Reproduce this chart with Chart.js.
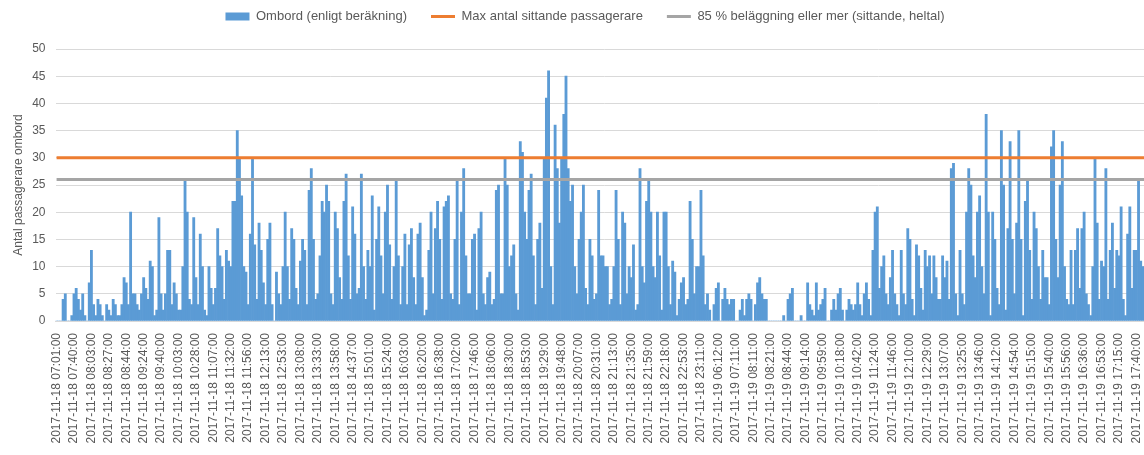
<!DOCTYPE html>
<html>
<head>
<meta charset="utf-8">
<script src="https://cdn.jsdelivr.net/npm/chart.js@4/dist/chart.umd.min.js"></script>
<style>
  html, body { margin: 0; padding: 0; background: #fff; overflow: hidden; }
  #wrap { width: 1170px; height: 455px; }
</style>
</head>
<body>
<div id="wrap"><canvas id="ombordChart" width="1170" height="455"></canvas></div>
<script>
// synliga etiketter på x-axeln (var 8:e stapel)
const tickLabels = [
  '2017-11-18 07:01:00', '2017-11-18 07:40:00', '2017-11-18 08:03:00', '2017-11-18 08:27:00',
  '2017-11-18 08:44:00', '2017-11-18 09:24:00', '2017-11-18 09:40:00', '2017-11-18 10:03:00',
  '2017-11-18 10:28:00', '2017-11-18 11:07:00', '2017-11-18 11:32:00', '2017-11-18 11:56:00',
  '2017-11-18 12:13:00', '2017-11-18 12:53:00', '2017-11-18 13:08:00', '2017-11-18 13:33:00',
  '2017-11-18 13:58:00', '2017-11-18 14:37:00', '2017-11-18 15:01:00', '2017-11-18 15:24:00',
  '2017-11-18 16:03:00', '2017-11-18 16:20:00', '2017-11-18 16:38:00', '2017-11-18 17:02:00',
  '2017-11-18 17:46:00', '2017-11-18 18:06:00', '2017-11-18 18:30:00', '2017-11-18 18:53:00',
  '2017-11-18 19:29:00', '2017-11-18 19:48:00', '2017-11-18 20:07:00', '2017-11-18 20:31:00',
  '2017-11-18 21:13:00', '2017-11-18 21:35:00', '2017-11-18 21:59:00', '2017-11-18 22:18:00',
  '2017-11-18 22:53:00', '2017-11-18 23:11:00', '2017-11-19 06:12:00', '2017-11-19 07:11:00',
  '2017-11-19 08:11:00', '2017-11-19 08:21:00', '2017-11-19 08:44:00', '2017-11-19 09:14:00',
  '2017-11-19 09:59:00', '2017-11-19 10:18:00', '2017-11-19 10:42:00', '2017-11-19 11:24:00',
  '2017-11-19 11:46:00', '2017-11-19 12:10:00', '2017-11-19 12:29:00', '2017-11-19 13:07:00',
  '2017-11-19 13:25:00', '2017-11-19 13:46:00', '2017-11-19 14:12:00', '2017-11-19 14:54:00',
  '2017-11-19 15:15:00', '2017-11-19 15:40:00', '2017-11-19 15:56:00', '2017-11-19 16:36:00',
  '2017-11-19 16:53:00', '2017-11-19 17:15:00', '2017-11-19 17:40:00'
];
const labelStep = 8;

// Ombord (enligt beräkning), en rad per etikett-intervall
const ombord = [
  0, 0, 0, 4, 5, 0, 0, 1,
  5, 6, 4, 2, 5, 1, 0, 7,
  13, 3, 1, 4, 3, 1, 0, 3,
  2, 1, 4, 3, 1, 1, 3, 8,
  7, 3, 20, 5, 5, 3, 2, 5,
  8, 6, 4, 11, 10, 1, 2, 19,
  5, 2, 5, 13, 13, 3, 7, 5,
  2, 2, 10, 26, 20, 4, 3, 19,
  8, 3, 16, 10, 2, 1, 10, 6,
  3, 6, 17, 12, 10, 4, 13, 11,
  10, 22, 22, 35, 30, 23, 10, 9,
  3, 16, 30, 14, 4, 18, 13, 7,
  3, 15, 18, 3, 0, 9, 5, 3,
  10, 20, 10, 4, 17, 15, 6, 3,
  11, 15, 13, 3, 24, 28, 15, 4,
  5, 12, 22, 20, 25, 22, 5, 3,
  20, 17, 8, 4, 22, 27, 12, 4,
  21, 16, 5, 6, 27, 10, 4, 13,
  10, 23, 2, 15, 21, 12, 5, 20,
  25, 14, 4, 10, 26, 12, 3, 10,
  16, 3, 14, 17, 8, 3, 16, 18,
  8, 1, 2, 13, 20, 5, 17, 22,
  15, 4, 21, 22, 23, 5, 4, 15,
  26, 3, 20, 28, 12, 5, 5, 15,
  16, 2, 17, 20, 5, 3, 8, 9,
  3, 4, 24, 25, 5, 5, 30, 25,
  10, 12, 14, 5, 2, 33, 31, 20,
  15, 24, 27, 12, 3, 15, 18, 6,
  30, 41, 46, 10, 3, 36, 28, 18,
  30, 38, 45, 28, 22, 25, 10, 5,
  15, 20, 25, 6, 3, 15, 12, 4,
  5, 24, 12, 12, 10, 10, 3, 4,
  10, 24, 15, 3, 20, 18, 5, 10,
  8, 14, 2, 3, 28, 10, 7, 22,
  26, 20, 10, 8, 20, 12, 2, 20,
  20, 10, 3, 11, 9, 1, 4, 7,
  8, 3, 4, 22, 15, 5, 10, 10,
  24, 12, 3, 5, 2, 0, 3, 6,
  7, 0, 4, 6, 4, 3, 4, 4,
  0, 0, 2, 4, 1, 4, 5, 4,
  0, 3, 7, 8, 5, 4, 4, 0,
  0, 0, 0, 0, 0, 0, 1, 0,
  4, 5, 6, 0, 0, 0, 1, 0,
  0, 7, 3, 2, 1, 7, 2, 3,
  4, 6, 0, 0, 2, 4, 2, 5,
  6, 2, 0, 2, 4, 3, 2, 3,
  7, 3, 1, 5, 7, 4, 1, 13,
  20, 21, 6, 10, 12, 5, 3, 8,
  13, 5, 3, 1, 13, 5, 3, 17,
  15, 4, 1, 14, 12, 6, 2, 13,
  10, 12, 5, 12, 8, 4, 4, 12,
  8, 11, 4, 28, 29, 5, 1, 13,
  5, 3, 20, 28, 25, 12, 8, 20,
  23, 10, 5, 38, 20, 1, 20, 15,
  6, 3, 35, 25, 2, 17, 33, 15,
  5, 18, 35, 15, 1, 22, 26, 13,
  4, 20, 17, 10, 4, 13, 8, 8,
  3, 32, 35, 15, 8, 25, 33, 10,
  4, 3, 13, 3, 13, 17, 6, 17,
  20, 5, 3, 1, 10, 30, 18, 4,
  11, 10, 28, 4, 13, 18, 6, 13,
  12, 21, 4, 1, 16, 21, 6, 13,
  13, 26, 11, 10, 10, 3, 5, 14
];

const maxSittande = 30;   // Max antal sittande passagerare
const belaggning85 = 26;  // 85 % beläggning (sittande, heltal)

// kategorier: etikett var 8:e stapel, tomt däremellan
const categories = ombord.map((v, i) => (i % labelStep === 0 ? (tickLabels[i / labelStep] || '') : ''));

Chart.defaults.font.family = "'Liberation Sans', Arial, sans-serif";
Chart.defaults.color = '#595959';

// lite luft mellan legend och diagram
const legendGap = {
  id: 'legendGap',
  beforeInit(chart) {
    const fit = chart.legend.fit;
    chart.legend.fit = function () {
      fit.bind(chart.legend)();
      this.height += 16;
    };
  }
};

const ctx = document.getElementById('ombordChart').getContext('2d');
new Chart(ctx, {
  type: 'bar',
  data: {
    labels: categories,
    datasets: [{
      label: 'Ombord (enligt beräkning)',
      data: ombord,
      backgroundColor: '#5B9BD5',
      borderWidth: 0,
      barPercentage: 1,
      categoryPercentage: 1,
      pointStyle: 'rect',
      order: 2
    }, {
      type: 'line',
      label: 'Max antal sittande passagerare',
      data: ombord.map(() => maxSittande),
      borderColor: '#ED7D31',
      backgroundColor: '#ED7D31',
      borderWidth: 3,
      pointRadius: 0,
      pointStyle: 'line',
      order: 1
    }, {
      type: 'line',
      label: '85 % beläggning eller mer (sittande, heltal)',
      data: ombord.map(() => belaggning85),
      borderColor: '#A5A5A5',
      backgroundColor: '#A5A5A5',
      borderWidth: 3,
      pointRadius: 0,
      pointStyle: 'line',
      order: 1
    }]
  },
  options: {
    responsive: false,
    animation: false,
    layout: { padding: { top: -14, left: 0, right: 0, bottom: 0 } },
    plugins: {
      legend: {
        position: 'top',
        align: 'center',
        labels: {
          usePointStyle: true,
          pointStyleWidth: 24,
          boxHeight: 8,
          padding: 24,
          font: { size: 13 },
          color: '#595959',
          sort: (a, b) => a.datasetIndex - b.datasetIndex
        }
      },
      tooltip: { enabled: false }
    },
    scales: {
      x: {
        grid: { display: false },
        border: { color: '#D9D9D9' },
        ticks: {
          autoSkip: false,
          maxRotation: 90,
          minRotation: 90,
          padding: 4,
          font: { size: 12 },
          color: '#595959'
        },
        afterFit: (scale) => { scale.height = 134; }
      },
      y: {
        min: 0,
        max: 50,
        ticks: { stepSize: 5, font: { size: 12 }, color: '#595959', padding: 10 },
        grid: { color: '#D9D9D9', drawTicks: false },
        border: { display: false },
        title: {
          display: true,
          text: 'Antal passagerare ombord',
          font: { size: 12 },
          color: '#595959',
          padding: { top: 11, bottom: 0 }
        },
        afterFit: (scale) => { scale.width = 55.5; }
      }
    }
  },
  plugins: [legendGap]
});
</script>
</body>
</html>
